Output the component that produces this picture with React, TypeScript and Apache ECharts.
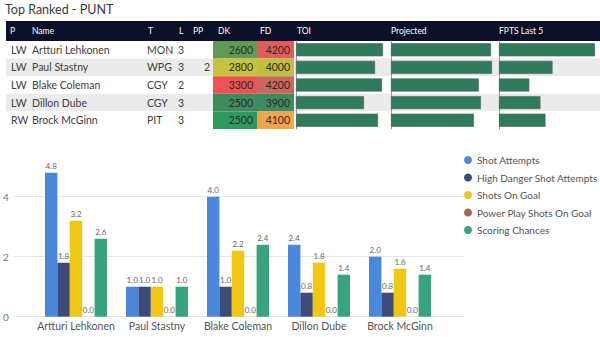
import React, { useEffect, useRef } from "react";
import * as echarts from "echarts";

const players = ["Artturi Lehkonen", "Paul Stastny", "Blake Coleman", "Dillon Dube", "Brock McGinn"];
const positions = ["LW", "LW", "LW", "LW", "RW"];
const teams = ["MON", "WPG", "CGY", "CGY", "PIT"];
const lines = ["3", "3", "2", "3", "3"];
const ppUnits = ["", "2", "", "", ""];
const dkSalary = [2600, 2800, 3300, 2500, 2500];
const fdSalary = [4200, 4000, 4200, 3900, 4100];
const dkColors = ["#619a56", "#c9c23c", "#ee5252", "#3f8a5e", "#2f9a5e"];
const fdColors = ["#e35c5c", "#bfbf40", "#c8695b", "#3f8a5e", "#f3a54b"];
const toiValues = [87, 79, 86, 68, 82];
const projectedValues = [99, 100, 87, 89, 82];
const fptsLast5 = [95, 53, 30, 41, 46];

const headers = ["P", "Name", "T", "L", "PP", "DK", "FD", "TOI", "Projected", "FPTS Last 5"];

const seriesNames = [
  "Shot Attempts",
  "High Danger Shot Attempts",
  "Shots On Goal",
  "Power Play Shots On Goal",
  "Scoring Chances",
];
const shotAttempts = [4.8, 1.0, 4.0, 2.4, 2.0];
const highDanger = [1.8, 1.0, 1.0, 0.8, 0.8];
const shotsOnGoal = [3.2, 1.0, 2.2, 1.8, 1.6];
const ppShotsOnGoal = [0, 0, 0, 0, 0];
const scoringChances = [2.6, 1.0, 2.4, 1.4, 1.4];
const seriesColors = ["#4a88db", "#3d4a7c", "#f0c814", "#a9654e", "#38a47e"];

const FONT = "Lato, 'Open Sans', sans-serif";

export default function App() {
  const ref = useRef<HTMLDivElement>(null);
  useEffect(() => {
    if (!ref.current) return;
    const chart = echarts.init(ref.current, undefined, { renderer: "svg" });
    const TOP = 41;
    const H = 88;
    const hiddenValX = (gridIndex: number, max: number) => ({
      type: "value", gridIndex, min: 0, max, show: false,
    });
    const catY = (gridIndex: number, extra: any = {}) => ({
      type: "category", gridIndex, data: players, inverse: true,
      axisLine: { show: false }, axisTick: { show: false }, axisLabel: { show: false },
      ...extra,
    });
    const textCol = (arr: string[], x: number, align: string) => ({
      type: "category", gridIndex: 0, data: players, inverse: true, position: "left",
      offset: -(x - 6),
      axisLine: { show: false }, axisTick: { show: false },
      axisLabel: {
        show: true, interval: 0, margin: 0, align,
        formatter: (_v: string, i: number) => arr[i],
        fontSize: 10.5, color: "#404040", fontFamily: FONT,
      },
    });
    const dataBars = [toiValues, projectedValues, fptsLast5];
    const barGridsX = [296, 391, 499];
    const barGridsW = [100, 101, 101];

    const grids: any[] = [
      { left: 6, right: 0, top: TOP, height: H },
      { left: 213, width: 44, top: TOP, height: H },
      { left: 257, width: 37, top: TOP, height: H },
      ...barGridsX.map((x, i) => ({ left: x, width: barGridsW[i], top: TOP, height: H })),
      { left: 10, right: 135, top: 136.7, bottom: 20.3 },
      { left: 35.5, width: 405, top: 136.7, bottom: 20.3 },
    ];

    const xAxes: any[] = [
      hiddenValX(0, 1), hiddenValX(1, 1), hiddenValX(2, 1),
      hiddenValX(3, 100), hiddenValX(4, 100), hiddenValX(5, 100),
      hiddenValX(6, 1),
      {
        type: "category", gridIndex: 7, data: players,
        axisLine: { show: false }, axisTick: { show: false },
        axisLabel: { interval: 0, margin: 4, fontSize: 10.5, color: "#555", fontFamily: FONT },
      },
    ];

    const yAxes: any[] = [
      catY(0, { splitArea: { show: true, areaStyle: { color: ["#ffffff", "#ebebeb"] } } }),
      catY(1), catY(2),
      catY(3, { axisLine: { show: true, lineStyle: { color: "#9a9a9a", width: 1 } } }),
      catY(4, { axisLine: { show: true, lineStyle: { color: "#9a9a9a", width: 1 } } }),
      catY(5, { axisLine: { show: true, lineStyle: { color: "#9a9a9a", width: 1 } } }),
      {
        type: "value", gridIndex: 6, min: 0, max: 6, interval: 2,
        axisLine: { show: false }, axisTick: { show: false },
        splitLine: { show: true, showMaxLine: false, lineStyle: { color: "#e6e6e6" } },
        axisLabel: { showMaxLabel: false, margin: 5, fontSize: 10, color: "#777", fontFamily: FONT },
      },
      { type: "value", gridIndex: 7, min: 0, max: 6, show: false },
      textCol(positions, 11, "left"),
      textCol(players, 32, "left"),
      textCol(teams, 147, "left"),
      textCol(lines, 178, "left"),
      textCol(ppUnits, 210, "right"),
    ];

    const cellSeries = (gi: number, vals: number[], colors: string[]) => ({
      type: "bar", xAxisIndex: gi, yAxisIndex: gi, barWidth: "100%",
      data: vals.map((v, i) => ({ value: 1, raw: v, itemStyle: { color: colors[i] } })),
      label: {
        show: true, position: "insideRight", distance: 4,
        formatter: (p: any) => String(vals[p.dataIndex]),
        fontSize: 10.5, color: "#2a2a2a", fontFamily: FONT,
      },
      silent: true,
    });

    const series: any[] = [
      cellSeries(1, dkSalary, dkColors),
      cellSeries(2, fdSalary, fdColors),
      ...dataBars.map((arr, i) => ({
        type: "bar", xAxisIndex: 3 + i, yAxisIndex: 3 + i, barWidth: 13,
        data: arr,
        itemStyle: { color: "#2e7c5c", borderColor: "#4d5a55", borderWidth: 0.6 },
      })),
      ...[shotAttempts, highDanger, shotsOnGoal, ppShotsOnGoal, scoringChances].map((arr, i) => ({
        name: seriesNames[i], type: "bar", xAxisIndex: 7, yAxisIndex: 7,
        barWidth: 12.4, barGap: "0%",
        data: arr,
        itemStyle: { color: seriesColors[i] },
        label: {
          show: true, position: "top", distance: 3,
          formatter: (p: any) => Number(p.value).toFixed(1),
          fontSize: 8, color: "#666", fontFamily: FONT,
        },
      })),
    ];

    const headerX = [10, 32, 148, 179, 193, 218, 260, 297, 391, 499];

    chart.setOption({
      animation: false,
      textStyle: { fontFamily: FONT },
      title: {
        text: "Top Ranked - PUNT", left: 5, top: 3, padding: 0,
        textStyle: { fontSize: 12.5, fontWeight: "normal", color: "#3a3a3a", fontFamily: FONT },
      },
      legend: {
        data: seriesNames, orient: "vertical", left: 464, top: 154, padding: 0,
        icon: "circle", itemWidth: 8, itemHeight: 8, itemGap: 5.5,
        textStyle: { fontSize: 10, color: "#555", lineHeight: 12, fontFamily: FONT },
      },
      grid: grids,
      xAxis: xAxes,
      yAxis: yAxes,
      series,
      graphic: [
        { type: "rect", shape: { x: 6, y: 21, width: 594, height: 20 }, style: { fill: "#0b1028" }, z: 0 },
        ...headers.map((h, i) => ({
          type: "text", x: headerX[i], y: 31,
          style: { text: h, fill: "#ffffff", fontSize: 8.5, fontFamily: FONT, verticalAlign: "middle" },
          z: 1,
        })),
      ],
    });
    return () => chart.dispose();
  }, []);
  return <div ref={ref} style={{ width: 600, height: 337, position: "absolute", left: 0, top: 0 }} />;
}
